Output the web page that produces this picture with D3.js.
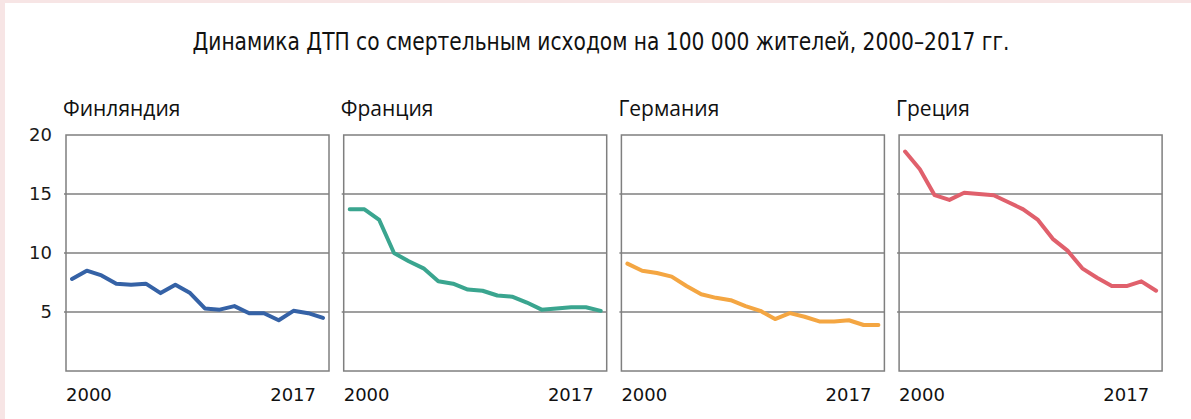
<!DOCTYPE html>
<html>
<head>
<meta charset="utf-8">
<script src="https://cdn.jsdelivr.net/npm/d3@7"></script>
<style>
  body { margin: 0; background: #fff; }
  svg { display: block; }
</style>
</head>
<body>
<svg id="svg" width="1191" height="419"></svg>
<script>
// данные
var years = d3.range(2000, 2018);
var countries = ['Финляндия', 'Франция', 'Германия', 'Греция'];
var colors = ['#3562a6', '#3aa58f', '#f4a642', '#e0606c'];

var finland = [7.8, 8.5, 8.1, 7.4, 7.3, 7.4, 6.6, 7.3, 6.6, 5.3, 5.2, 5.5, 4.9, 4.9, 4.3, 5.1, 4.9, 4.5];
var france  = [13.7, 13.7, 12.8, 10.0, 9.3, 8.7, 7.6, 7.4, 6.9, 6.8, 6.4, 6.3, 5.8, 5.2, 5.3, 5.4, 5.4, 5.1];
var germany = [9.1, 8.5, 8.3, 8.0, 7.2, 6.5, 6.2, 6.0, 5.5, 5.1, 4.4, 4.9, 4.6, 4.2, 4.2, 4.3, 3.9, 3.9];
var greece  = [18.6, 17.1, 14.9, 14.5, 15.1, 15.0, 14.9, 14.3, 13.7, 12.8, 11.2, 10.2, 8.7, 7.9, 7.2, 7.2, 7.6, 6.8];
var series = [finland, france, germany, greece];

var yTicks = [5, 10, 15, 20];
var gridTicks = [5, 10, 15];
var xLabels = ['2000', '2017'];

var title = 'Динамика ДТП со смертельным исходом на 100 000 жителей, 2000–2017 гг.';

/*************************** разметка ******************************/

var svg = d3.select('#svg');
var W = 1191, H = 419;

svg.append('rect').attr('width', W).attr('height', H).attr('fill', '#f7e5e5');
svg.append('rect').attr('x', 5).attr('y', 3).attr('width', W - 5).attr('height', H - 3).attr('fill', '#fff');

svg.append('text')
    .attr('x', 601).attr('y', 50)
    .attr('text-anchor', 'middle')
    .attr('font-family', '"Liberation Sans Narrow", "DejaVu Sans Condensed", "Liberation Sans", sans-serif')
    .attr('font-size', 24)
    .attr('fill', '#111')
    .attr('textLength', 817)
    .attr('lengthAdjust', 'spacingAndGlyphs')
    .text(title);

var plotTop = 135, plotBottom = 371;
var panelW = 263;

var px = d3.scaleBand().domain(countries).range([66, 66 + 277.7 * 4]).paddingInner(0).paddingOuter(0);

var y = d3.scaleLinear().domain([0, 20]).range([plotBottom, plotTop]);

// подписи оси Y
svg.append('g').selectAll('text').data(yTicks).enter().append('text')
    .attr('x', 52)
    .attr('y', function(d) { return y(d); })
    .attr('dy', '0.36em')
    .attr('text-anchor', 'end')
    .attr('font-family', '"DejaVu Sans", Verdana, sans-serif')
    .attr('font-size', 18)
    .attr('fill', '#1a1a1a')
    .text(function(d) { return d; });

countries.forEach(function(name, i) {
    var x0 = px(name);
    var g = svg.append('g').attr('transform', 'translate(' + x0 + ',0)');

    var x = d3.scaleLinear().domain([2000, 2017]).range([6, panelW - 6]);

    g.append('rect')
        .attr('x', 0).attr('y', plotTop)
        .attr('width', panelW).attr('height', plotBottom - plotTop)
        .attr('fill', '#fff')
        .attr('stroke', '#7f7f7f').attr('stroke-width', 1.5);

    g.selectAll('line.grid').data(gridTicks).enter().append('line')
        .attr('class', 'grid')
        .attr('x1', -2).attr('x2', panelW)
        .attr('y1', function(d) { return y(d); })
        .attr('y2', function(d) { return y(d); })
        .attr('stroke', '#7f7f7f').attr('stroke-width', 1.5);

    var line = d3.line()
        .x(function(d, j) { return x(years[j]); })
        .y(function(d) { return y(d); });

    g.append('path')
        .datum(series[i])
        .attr('d', line)
        .attr('fill', 'none')
        .attr('stroke', colors[i])
        .attr('stroke-width', 4)
        .attr('stroke-linejoin', 'round')
        .attr('stroke-linecap', 'round');

    g.append('text')
        .attr('x', -3).attr('y', 116)
        .attr('font-family', '"Open Sans", "Noto Sans", sans-serif')
        .attr('font-size', 21)
        .attr('fill', '#111')
        .text(name);

    g.append('text')
        .attr('x', 0).attr('y', 401)
        .attr('font-family', '"DejaVu Sans", Verdana, sans-serif')
        .attr('font-size', 18)
        .attr('fill', '#111')
        .text(xLabels[0]);

    g.append('text')
        .attr('x', panelW - 13).attr('y', 401)
        .attr('text-anchor', 'end')
        .attr('font-family', '"DejaVu Sans", Verdana, sans-serif')
        .attr('font-size', 18)
        .attr('fill', '#111')
        .text(xLabels[1]);
});
</script>
</body>
</html>
